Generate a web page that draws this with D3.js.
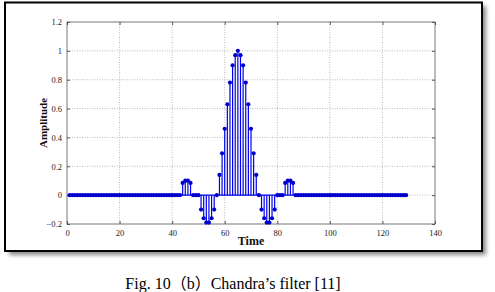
<!DOCTYPE html>
<html>
<head>
<meta charset="utf-8">
<script src="https://cdn.jsdelivr.net/npm/d3@7"></script>
<style>
  body { margin:0; background:#fff; }
  svg { display:block; }
  .tick text { font-family:"Liberation Serif","Times New Roman",serif; font-size:8.5px; fill:#222; }
</style>
</head>
<body>
<svg id="chart" width="495" height="292"></svg>
<script>
// filter taps, sample index 1..129
var amplitude = [
  0,0,0,0,0,0,0,0,0,0, 0,0,0,0,0,0,0,0,0,0,
  0,0,0,0,0,0,0,0,0,0, 0,0,0,0,0,0,0,0,0,0,
  0,0,0,
  0.085,0.10,0.10,0.085,
  0,0,0,
  -0.10,-0.16,-0.19,-0.19,-0.16,-0.10,
  0,
  0.14,0.29,0.46,0.63,0.78,0.90,0.97,1.00,0.97,0.90,0.78,0.63,0.46,0.29,0.14,
  0,
  -0.10,-0.16,-0.19,-0.19,-0.16,-0.10,
  0,0,0,
  0.085,0.10,0.10,0.085,
  0,0,0,0,0,0,0,0,0,0, 0,0,0,0,0,0,0,0,0,0,
  0,0,0,0,0,0,0,0,0,0, 0,0,0,0,0,0,0,0,0,0,
  0,0,0
];
var sampleIdx = amplitude.map((d,i) => i+1);
var xTicks = [0,20,40,60,80,100,120,140];
var yTicks = [-0.2,0,0.2,0.4,0.6,0.8,1,1.2];
var xLabel = 'Time';
var yLabel = 'Amplitude';
var caption = 'Fig. 10\uFF08b\uFF09Chandra\u2019s filter [11]';

var margin = {top:22, right:60, bottom:68, left:67},
    width = 495 - margin.left - margin.right,
    height = 292 - margin.top - margin.bottom;

var svg = d3.select('#chart');

// drop shadow + frame
var defs = svg.append('defs');
var f = defs.append('filter').attr('id','shadow').attr('x','-5%').attr('y','-5%').attr('width','115%').attr('height','115%');
f.append('feGaussianBlur').attr('stdDeviation',2);

svg.append('rect')
    .attr('x',9).attr('y',6)
    .attr('width',477).attr('height',249)
    .attr('fill','#888')
    .attr('filter','url(#shadow)');
svg.append('rect')
    .attr('x',5).attr('y',2.5)
    .attr('width',477).attr('height',248.5)
    .attr('fill','#fff')
    .attr('stroke','#000')
    .attr('stroke-width',2);

var xScale = d3.scaleLinear().domain([0,140]).range([0,width]);
var yScale = d3.scaleLinear().domain([-0.2,1.2]).range([height,0]);

var g = svg.append('g').attr('transform','translate('+margin.left+','+margin.top+')');

// grid
g.selectAll('.vgrid')
    .data(xTicks.slice(1,-1))
    .join('line')
    .attr('class','vgrid')
    .attr('x1',d => xScale(d)).attr('x2',d => xScale(d))
    .attr('y1',0).attr('y2',height)
    .attr('stroke','#aaa').attr('stroke-width',0.8)
    .attr('stroke-dasharray','1,1.5');
g.selectAll('.hgrid')
    .data(yTicks.slice(1,-1))
    .join('line')
    .attr('class','hgrid')
    .attr('x1',0).attr('x2',width)
    .attr('y1',d => yScale(d)).attr('y2',d => yScale(d))
    .attr('stroke','#aaa').attr('stroke-width',0.8)
    .attr('stroke-dasharray','1,1.5');

// axes
var xAxis = d3.axisBottom(xScale).tickValues(xTicks).tickSize(-3).tickPadding(6).tickFormat(d3.format('d'));
var yAxis = d3.axisLeft(yScale).tickValues(yTicks).tickSize(-3).tickPadding(5).tickFormat(d => d3.format('')(+d.toFixed(1)));

g.append('g')
    .attr('transform','translate(0,'+height+')')
    .call(xAxis)
    .call(s => s.select('.domain').remove())
    .call(s => s.selectAll('line').attr('stroke','#555'));
g.append('g')
    .call(yAxis)
    .call(s => s.select('.domain').remove())
    .call(s => s.selectAll('line').attr('stroke','#555'));
g.append('g')
    .attr('transform','translate('+width+',0)')
    .call(d3.axisRight(yScale).tickValues(yTicks).tickSize(-3).tickFormat(''))
    .call(s => s.select('.domain').remove())
    .call(s => s.selectAll('line').attr('stroke','#555'));
g.append('g')
    .call(d3.axisTop(xScale).tickValues(xTicks).tickSize(-3).tickFormat(''))
    .call(s => s.select('.domain').remove())
    .call(s => s.selectAll('line').attr('stroke','#555'));

g.append('rect')
    .attr('x',0).attr('y',0)
    .attr('width',width).attr('height',height)
    .attr('fill','none')
    .attr('stroke','#555').attr('stroke-width',0.8);

// stems
var data = sampleIdx.map((t,i) => ({t:t, v:amplitude[i]}));
g.selectAll('.stem')
    .data(data)
    .join('line')
    .attr('class','stem')
    .attr('x1',d => xScale(d.t)).attr('x2',d => xScale(d.t))
    .attr('y1',yScale(0)).attr('y2',d => yScale(d.v))
    .attr('stroke','#0000ee').attr('stroke-width',1.2);
g.append('line')
    .attr('x1',xScale(sampleIdx[0])).attr('x2',xScale(sampleIdx[sampleIdx.length-1]))
    .attr('y1',yScale(0)).attr('y2',yScale(0))
    .attr('stroke','#0000ee').attr('stroke-width',1.2);
g.selectAll('.mark')
    .data(data)
    .join('circle')
    .attr('class','mark')
    .attr('cx',d => xScale(d.t))
    .attr('cy',d => yScale(d.v))
    .attr('r',2.1)
    .attr('fill','#0000cc');

// labels
svg.append('text')
    .attr('x',margin.left + xScale(70))
    .attr('y',245)
    .attr('text-anchor','middle')
    .style('font-family','"Liberation Serif","Times New Roman",serif')
    .style('font-size','12px')
    .style('font-weight','bold')
    .attr('fill','#111')
    .text(xLabel);
svg.append('text')
    .attr('transform','translate(47,'+(margin.top + yScale(0.5))+') rotate(-90)')
    .attr('text-anchor','middle')
    .style('font-family','"Liberation Serif","Times New Roman",serif')
    .style('font-size','11px')
    .style('font-weight','bold')
    .attr('fill','#111')
    .text(yLabel);

svg.append('text')
    .attr('x',233)
    .attr('y',289)
    .attr('text-anchor','middle')
    .style('font-family','"Liberation Serif","Times New Roman","Noto Sans CJK SC",serif')
    .style('font-size','16px')
    .attr('fill','#000')
    .text(caption);
</script>
</body>
</html>
